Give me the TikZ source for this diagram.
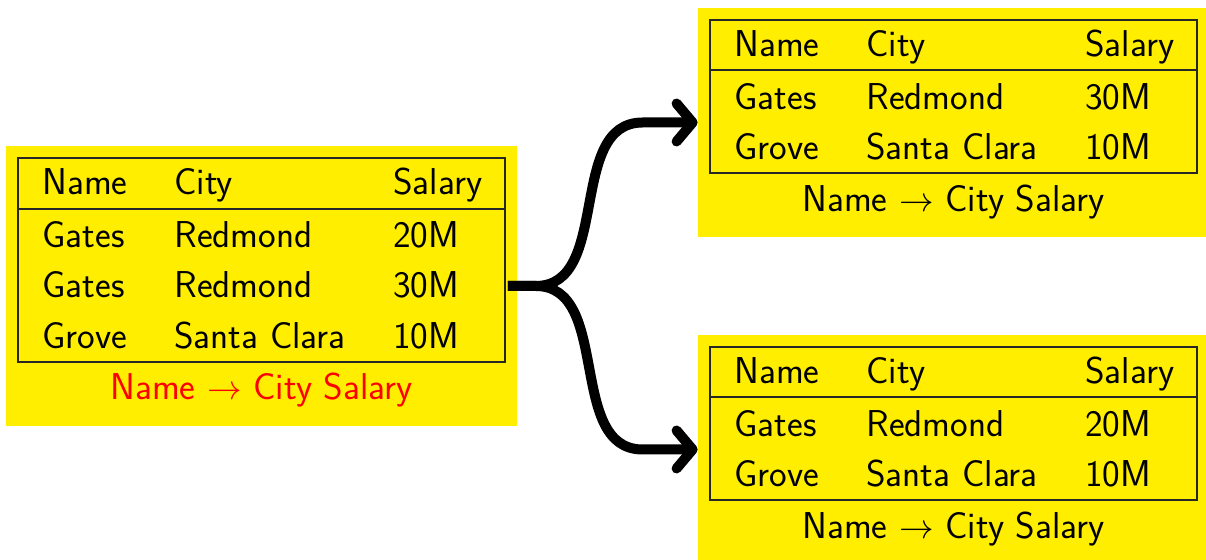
\documentclass[tikz,border=0pt]{standalone}
\usetikzlibrary{arrows.meta}
\definecolor{boxyellow}{RGB}{255,238,0}
\begin{document}
\begin{tikzpicture}[x=0.5pt,y=-0.5pt,
  ybox/.style={fill=boxyellow,draw=none,inner sep=0pt,minimum width=255.5pt},
  frame/.style={draw=black!85,line width=0.75pt,inner sep=0pt,minimum width=243.5pt},
  rule/.style={draw=black!85,line width=0.75pt},
  cell/.style={anchor=base west,inner sep=0pt,font=\sffamily\fontsize{18.7}{22}\selectfont},
  fd/.style={anchor=base,inner sep=0pt,font=\sffamily\fontsize{18.7}{22}\selectfont},
  flow/.style={line width=5pt,line cap=butt,line join=round,
    -{Straight Barb[length=8pt,width=19pt,line cap=round,line join=round]}}]
\useasboundingbox (0,0) rectangle (1206,560);

% Relation before decomposition
\begin{scope}[shift={(18,158)}]
  \node[ybox,minimum height=140pt] (L) at (243.5,128) {};
  \node[frame,minimum height=102pt] (tabL) at (243.5,102) {};
  \draw[rule] ([yshift=-26pt]tabL.north west) -- ([yshift=-26pt]tabL.north east);
  \node[cell] (L00) at (24,37) {Name};
  \node[cell] (L01) at (156,37) {City};
  \node[cell] (L02) at (375,37) {Salary};
  \node[cell] (L10) at (24,90) {Gates};
  \node[cell] (L11) at (156,90) {Redmond};
  \node[cell] (L12) at (375,90) {20M};
  \node[cell] (L20) at (24,140) {Gates};
  \node[cell] (L21) at (156,140) {Redmond};
  \node[cell] (L22) at (375,140) {30M};
  \node[cell] (L30) at (24,191) {Grove};
  \node[cell] (L31) at (156,191) {Santa Clara};
  \node[cell] (L32) at (375,191) {10M};
  \node[fd,text=red] (Lfd) at (243.5,242) {Name $\rightarrow$ City Salary};
\end{scope}

% Upper result
\begin{scope}[shift={(710,20)}]
  \node[ybox,minimum height=114.5pt] (T) at (243.5,102.5) {};
  \node[frame,minimum height=76.5pt] (tabT) at (243.5,76.5) {};
  \draw[rule] ([yshift=-25.5pt]tabT.north west) -- ([yshift=-25.5pt]tabT.north east);
  \node[cell] (T00) at (24,37) {Name};
  \node[cell] (T01) at (156,37) {City};
  \node[cell] (T02) at (375,37) {Salary};
  \node[cell] (T10) at (24,90) {Gates};
  \node[cell] (T11) at (156,90) {Redmond};
  \node[cell] (T12) at (375,90) {30M};
  \node[cell] (T20) at (24,140) {Grove};
  \node[cell] (T21) at (156,140) {Santa Clara};
  \node[cell] (T22) at (375,140) {10M};
  \node[fd] (Tfd) at (243.5,192) {Name $\rightarrow$ City Salary};
\end{scope}

% Lower result
\begin{scope}[shift={(710,347)}]
  \node[ybox,minimum height=114.5pt] (B) at (243.5,102.5) {};
  \node[frame,minimum height=76.5pt] (tabB) at (243.5,76.5) {};
  \draw[rule] ([yshift=-25.5pt]tabB.north west) -- ([yshift=-25.5pt]tabB.north east);
  \node[cell] (B00) at (24,37) {Name};
  \node[cell] (B01) at (156,37) {City};
  \node[cell] (B02) at (375,37) {Salary};
  \node[cell] (B10) at (24,90) {Gates};
  \node[cell] (B11) at (156,90) {Redmond};
  \node[cell] (B12) at (375,90) {20M};
  \node[cell] (B20) at (24,140) {Grove};
  \node[cell] (B21) at (156,140) {Santa Clara};
  \node[cell] (B22) at (375,140) {10M};
  \node[fd] (Bfd) at (243.5,192) {Name $\rightarrow$ City Salary};
\end{scope}

% Branching arrows
\coordinate (split) at ([xshift=15pt]tabL.east |- L.center);
\draw[flow] ([xshift=1pt]tabL.east |- L.center) -- (split)
  to[out=0,in=180] ([xshift=-27.5pt]T.west) -- (T.west);
\draw[flow] ([xshift=1pt]tabL.east |- L.center) -- (split)
  to[out=0,in=180] ([xshift=-27.5pt]B.west) -- (B.west);
\end{tikzpicture}
\end{document}
